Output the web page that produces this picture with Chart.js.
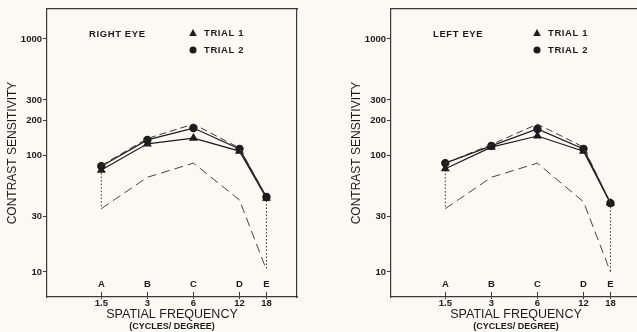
<!DOCTYPE html>
<html><head><meta charset="utf-8">
<script src="https://cdn.jsdelivr.net/npm/chart.js@4/dist/chart.umd.min.js"></script>
<style>
html,body{margin:0;padding:0;background:#faf9f4;}
#wrap{position:relative;width:637px;height:332px;overflow:hidden;background:#faf9f4;}
.panel{position:absolute;top:0;width:318px;height:332px;}
</style></head><body>
<div id="wrap">
<div class="panel" style="left:0"><canvas id="c1" width="318" height="332"></canvas></div>
<div class="panel" style="left:344px"><canvas id="c2" width="318" height="332"></canvas></div>
</div>
<script>
// ---- data ----
const freqs = [1.5, 3, 6, 12, 18];
const freqLabels = ['1.5', '3', '6', '12', '18'];
const letters = ['A', 'B', 'C', 'D', 'E'];
const yTicks = [10, 30, 100, 200, 300, 1000];
const seriesNames = ['TRIAL 1', 'TRIAL 2'];

const rightTrial1 = [75, 126, 141, 109, 43];
const rightTrial2 = [81, 136, 172, 114, 44];
const rightUpper  = [82, 140, 186, 116, 44];
const rightLower  = [35, 65, 86, 41.5, 10.4];

const leftTrial1 = [77, 118, 147, 109, 39];
const leftTrial2 = [86, 121, 169, 114, 39];
const leftUpper  = [86, 124, 186, 118, 39];
const leftLower  = [35, 65, 86, 40, 10];

// ---- styling / geometry ----
const INK = '#1c1c1c';
const FRAME = '#3a3a3a';
const FONT = '"Liberation Sans", Arial, sans-serif';
const XMIN = 0.6625, XMAX = 28.5;
const YMIN = 6.10, YMAX = 1809;
const LETTER_Y = 8.54;   // y value where the A-E letter row sits
const INNER_TICK_Y = 6.73;

const pts = (xs, ys) => xs.map((x, i) => ({x, y: ys[i]}));
const setTicks = vals => s => { s.ticks = vals.map(v => ({value: v})); };

const panelText = {
  id: 'panelText',
  afterDraw(chart, args, opts) {
    const {ctx, chartArea: a} = chart;
    ctx.save();
    ctx.fillStyle = INK;
    ctx.font = 'bold 9.5px ' + FONT;
    ctx.textBaseline = 'middle';
    ctx.textAlign = 'left';
    ctx.letterSpacing = '0.6px';
    ctx.fillText(opts.title, a.left + 42, 34);
    const mx = a.left + 146;
    ctx.beginPath();
    ctx.moveTo(mx, 29); ctx.lineTo(mx + 3.8, 36); ctx.lineTo(mx - 3.8, 36); ctx.closePath();
    ctx.fill();
    ctx.fillText(seriesNames[0], a.left + 157, 33.5);
    ctx.beginPath();
    ctx.arc(mx, 50, 3.5, 0, Math.PI * 2);
    ctx.fill();
    ctx.fillText(seriesNames[1], a.left + 157, 50.5);
    ctx.restore();
  }
};

function makePanel(id, title, t1, t2, up, low) {
  const dotted = {borderColor: '#333', borderWidth: 1, borderDash: [1.5, 2], pointRadius: 0, fill: false};
  return new Chart(document.getElementById(id), {
    type: 'line',
    data: {
      datasets: [
        {label: 'upper', data: pts(freqs, up), borderColor: '#3a3a3a', borderWidth: 1, borderDash: [7, 4], pointRadius: 0},
        {label: 'lower', data: pts(freqs, low), borderColor: '#444', borderWidth: 1, borderDash: [9, 5], pointRadius: 0},
        Object.assign({label: 'dotA', data: [{x: freqs[0], y: t2[0]}, {x: freqs[0], y: low[0]}]}, dotted),
        Object.assign({label: 'dotE', data: [{x: freqs[4], y: t2[4]}, {x: freqs[4], y: low[4]}]}, dotted),
        {label: seriesNames[0], data: pts(freqs, t1), borderColor: INK, borderWidth: 1.2,
          pointStyle: 'triangle', pointRadius: 4, backgroundColor: INK, pointBorderColor: INK},
        {label: seriesNames[1], data: pts(freqs, t2), borderColor: INK, borderWidth: 1.2,
          pointStyle: 'circle', pointRadius: 3.6, backgroundColor: INK, pointBorderColor: INK}
      ]
    },
    options: {
      responsive: false,
      animation: false,
      events: [],
      layout: {padding: {left: 0, right: 21, top: 9, bottom: 0}},
      plugins: {
        legend: {display: false},
        tooltip: {enabled: false},
        title: {display: true, position: 'bottom', fullSize: false, text: '(CYCLES/ DEGREE)', color: INK,
          font: {family: FONT, size: 9, weight: 'bold', lineHeight: 1}, padding: {top: 0, bottom: 1}},
        panelText: {title}
      },
      scales: {
        x: {
          type: 'logarithmic', position: 'bottom', min: XMIN, max: XMAX, bounds: 'data',
          afterBuildTicks: setTicks(freqs),
          afterFit: s => { s.height = 25; },
          ticks: {callback: v => freqLabels[freqs.indexOf(v)], color: INK, padding: 0, autoSkip: false, maxRotation: 0,
            font: {family: FONT, size: 9.5, weight: 'bold', lineHeight: 1}},
          grid: {drawOnChartArea: false, drawTicks: true, tickLength: 2, color: FRAME, lineWidth: 1},
          border: {display: true, color: FRAME, width: 1.2},
          title: {display: true, text: 'SPATIAL FREQUENCY', color: INK, font: {family: FONT, size: 12.5}, padding: {top: 0, bottom: 0}}
        },
        xl: {
          type: 'logarithmic', position: {y: LETTER_Y}, min: XMIN, max: XMAX, bounds: 'data',
          afterBuildTicks: setTicks(freqs),
          ticks: {callback: v => letters[freqs.indexOf(v)], color: INK, padding: 0, autoSkip: false, maxRotation: 0,
            font: {family: FONT, size: 9.5, weight: 'bold', lineHeight: 1}},
          grid: {display: false, drawTicks: false},
          border: {display: false}
        },
        xt: {
          type: 'logarithmic', position: {y: INNER_TICK_Y}, min: XMIN, max: XMAX, bounds: 'data',
          afterBuildTicks: setTicks(freqs),
          ticks: {display: false},
          grid: {display: true, drawOnChartArea: false, drawTicks: true, tickLength: 5, color: FRAME, lineWidth: 1},
          border: {display: false}
        },
        xTop: {
          type: 'logarithmic', position: 'top', min: XMIN, max: XMAX, bounds: 'data',
          afterFit: s => { s.height = 0; },
          ticks: {display: false}, grid: {display: false},
          border: {display: true, color: FRAME, width: 1.2}
        },
        y: {
          type: 'logarithmic', position: 'left', min: YMIN, max: YMAX, bounds: 'data',
          afterBuildTicks: setTicks(yTicks),
          afterFit: s => { s.width = 47; },
          ticks: {callback: v => String(v), color: INK, padding: 1, autoSkip: false,
            font: {family: FONT, size: 9.5, weight: 'bold'}},
          grid: {drawOnChartArea: false, drawTicks: true, tickLength: 4, color: FRAME, lineWidth: 1},
          border: {display: true, color: FRAME, width: 1.2},
          title: {display: true, text: 'CONTRAST SENSITIVITY', color: INK, font: {family: FONT, size: 12}, padding: {top: 5, bottom: 0}}
        },
        yRight: {
          type: 'logarithmic', position: 'right', min: YMIN, max: YMAX, bounds: 'data',
          afterFit: s => { s.width = 0; },
          ticks: {display: false}, grid: {display: false},
          border: {display: true, color: FRAME, width: 1.2}
        }
      }
    },
    plugins: [panelText]
  });
}

makePanel('c1', 'RIGHT EYE', rightTrial1, rightTrial2, rightUpper, rightLower);
makePanel('c2', 'LEFT EYE', leftTrial1, leftTrial2, leftUpper, leftLower);
</script>
</body></html>
